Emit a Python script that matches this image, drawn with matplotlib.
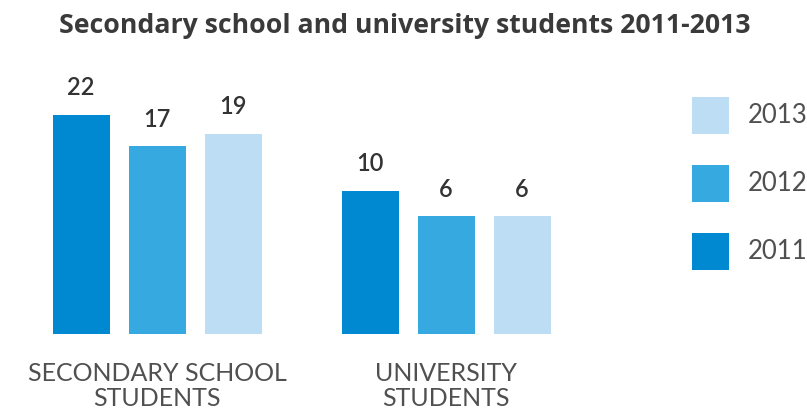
import matplotlib
matplotlib.use("Agg")
import matplotlib.pyplot as plt
import numpy as np

categories = ["SECONDARY SCHOOL\nSTUDENTS", "UNIVERSITY\nSTUDENTS"]
years = ["2011", "2012", "2013"]
values = {
    "2011": [22, 10],
    "2012": [17, 6],
    "2013": [19, 6],
}
colors = {"2011": "#0088D1", "2012": "#36A9E1", "2013": "#BDDDF4"}
title = "Secondary school and university students 2011-2013"

BASELINE = -12.7  # visual baseline of the original (non-zero-based bars)

W, H = 807, 413
fig = plt.figure(figsize=(W / 100, H / 100), dpi=100)
ax_bottom = (H - 334) / H
ax_top = (H - 60) / H
ax = fig.add_axes([0, ax_bottom, 1, ax_top - ax_bottom])
px_per_group = 289.0
ax.set_xlim(-157 / px_per_group, (W - 157) / px_per_group)
px_per_unit = 6.32
ax.set_ylim(BASELINE, BASELINE + (334 - 60) / px_per_unit)
ax.axis("off")

x = np.arange(len(categories))
bw = 57 / px_per_group
step = 76 / px_per_group
label_font = "Lato"
for i, yr in enumerate(years):
    xs = x + (i - 1) * step
    vals = np.array(values[yr])
    ax.bar(xs, vals - BASELINE, bottom=BASELINE, width=bw, color=colors[yr], linewidth=0)
    for xx, v in zip(xs, vals):
        ax.annotate(str(v), (xx, v), xytext=(0, 11), textcoords="offset points",
                    ha="center", va="bottom", fontsize=17, color="#333333",
                    family=label_font, fontweight="semibold")

trans = matplotlib.transforms.blended_transform_factory(ax.transData, fig.transFigure)
for xx, c in zip(x, categories):
    ax.text(xx, (H - 386) / H, c, transform=trans,
            ha="center", va="center", fontsize=18, color="#505050", family=label_font,
            fontweight="normal", linespacing=1.15)

fig.text(405 / W, 1 - 26 / H, title, ha="center", va="center", fontsize=19.2,
         fontweight="bold", color="#3a3a3a", family="Open Sans")

# legend
for j, yr in enumerate(reversed(years)):
    ytop = 97 + j * 68
    fig.patches.append(matplotlib.patches.Rectangle((692 / W, 1 - (ytop + 37) / H), 37 / W, 37 / H,
                                                    transform=fig.transFigure, color=colors[yr], linewidth=0))
    fig.text(748 / W, 1 - (ytop + 18.5) / H, yr, ha="left", va="center", fontsize=18.5,
             color="#505050", family=label_font, fontweight="normal")

fig.savefig("out.png", dpi=100, facecolor="white")
